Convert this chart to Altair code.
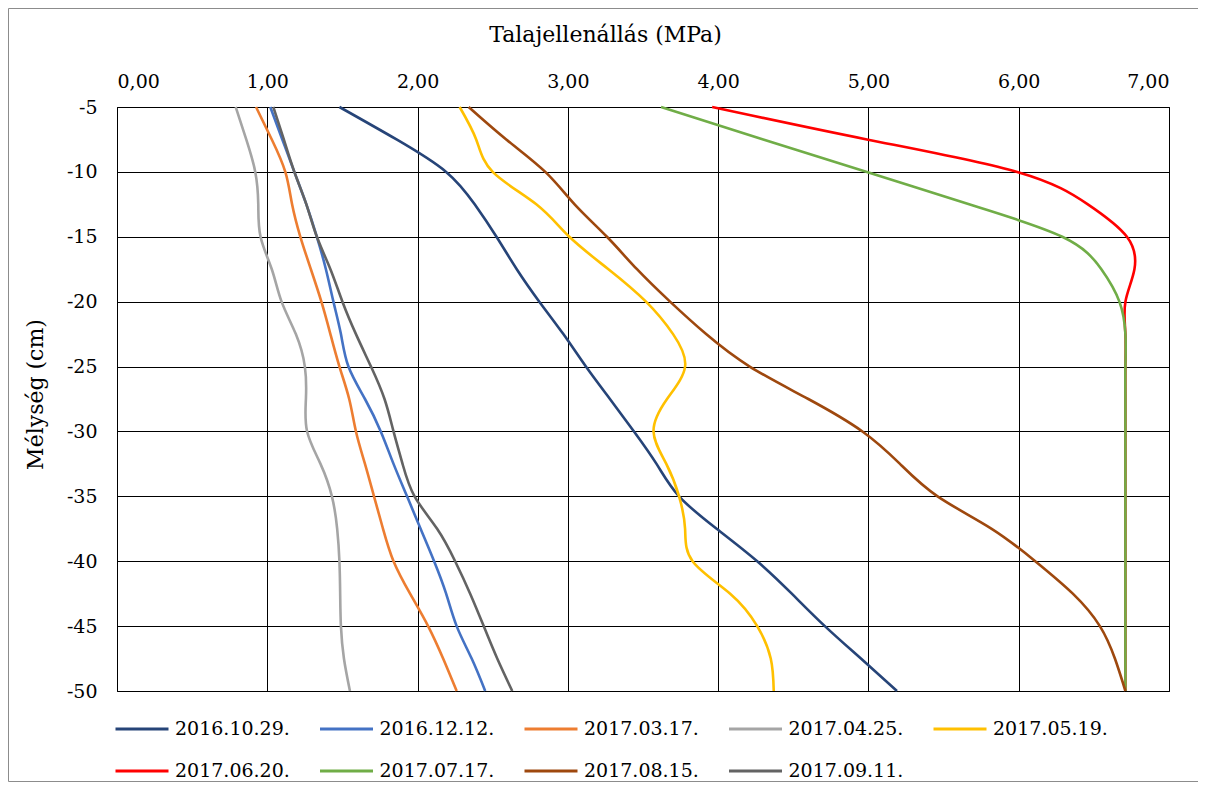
import altair as alt
import pandas as pd

# Depth (cm) sampling grid, shared by all series
DEPTH = [-5, -7.5, -10, -12.5, -15, -17.5, -20, -22.5, -25, -27.5, -30,
         -32.5, -35, -37.5, -40, -42.5, -45, -47.5, -50]

SERIES = ["2016.10.29.", "2016.12.12.", "2017.03.17.", "2017.04.25.", "2017.05.19.",
          "2017.06.20.", "2017.07.17.", "2017.08.15.", "2017.09.11."]
COLORS = ["#264478", "#4472C4", "#ED7D31", "#A5A5A5", "#FFC000",
          "#FF0000", "#70AD47", "#9E480E", "#636363"]

# Talajellenállás (MPa) per series, read at each depth in DEPTH
V_20161029 = [1.48, 1.86, 2.19, 2.38, 2.525, 2.66, 2.81, 2.97, 3.12, 3.28, 3.44,
              3.59, 3.74, 3.99, 4.26, 4.49, 4.71, 4.95, 5.19]
V_20161212 = [1.02, 1.10, 1.18, 1.26, 1.33, 1.39, 1.44, 1.49, 1.54, 1.65, 1.755,
              1.84, 1.93, 2.02, 2.11, 2.19, 2.26, 2.36, 2.45]
V_20170317 = [0.925, 1.03, 1.12, 1.165, 1.22, 1.29, 1.36, 1.42, 1.48, 1.545, 1.59,
              1.65, 1.71, 1.77, 1.84, 1.95, 2.07, 2.17, 2.26]
V_20170425 = [0.79, 0.86, 0.92, 0.94, 0.955, 1.03, 1.095, 1.19, 1.25, 1.257, 1.265,
              1.354, 1.43, 1.465, 1.48, 1.485, 1.49, 1.51, 1.55]
V_20170519 = [2.28, 2.39, 2.50, 2.79, 3.01, 3.27, 3.52, 3.70, 3.78, 3.66, 3.57,
              3.655, 3.74, 3.78, 3.83, 4.08, 4.26, 4.35, 4.37]
V_20170620 = [3.96, 4.99, 5.99, 6.46, 6.72, 6.77, 6.71, 6.71, 6.71, 6.71, 6.71,
              6.71, 6.71, 6.71, 6.71, 6.71, 6.71, 6.71, 6.71]
V_20170717 = [3.62, 4.30, 4.99, 5.67, 6.29, 6.55, 6.67, 6.71, 6.71, 6.71, 6.71,
              6.71, 6.71, 6.71, 6.71, 6.71, 6.71, 6.71, 6.71]
V_20170815 = [2.34, 2.59, 2.85, 3.045, 3.26, 3.46, 3.68, 3.92, 4.21, 4.60, 4.96,
              5.21, 5.46, 5.82, 6.11, 6.36, 6.54, 6.64, 6.71]
V_20170911 = [1.04, 1.11, 1.18, 1.26, 1.33, 1.42, 1.50, 1.59, 1.69, 1.78, 1.84,
              1.90, 1.98, 2.13, 2.25, 2.35, 2.44, 2.53, 2.63]

VALUES = [V_20161029, V_20161212, V_20170317, V_20170425, V_20170519,
          V_20170620, V_20170717, V_20170815, V_20170911]

X_TICKS = [0, 1, 2, 3, 4, 5, 6, 7]
Y_TICKS = [-5, -10, -15, -20, -25, -30, -35, -40, -45, -50]

rows = []
for name, vals in zip(SERIES, VALUES):
    for k, (d, v) in enumerate(zip(DEPTH, vals)):
        rows.append({"s": name, "d": d, "v": v, "k": k})
df = pd.DataFrame(rows)

FONT = "DejaVu Serif"

lines = alt.Chart(df).mark_line(strokeWidth=2.6, interpolate="natural").encode(
    x=alt.X("v:Q",
            scale=alt.Scale(domain=[0, 7], nice=False, zero=False),
            axis=alt.Axis(orient="top", values=X_TICKS, title="Talajellenállás (MPa)",
                          labelExpr="replace(format(datum.value, '.2f'), '.', ',')",
                          ticks=False, tickSize=0, labelPadding=16, domain=False,
                          labelFontSize=19, titleFontSize=22,
                          labelFont=FONT, titleFont=FONT,
                          titleX=488, titleY=-66, titleAlign="center",
                          titleBaseline="alphabetic")),
    y=alt.Y("d:Q",
            scale=alt.Scale(domain=[-50, -5], nice=False, zero=False),
            axis=alt.Axis(values=Y_TICKS, title="Mélység (cm)",
                          labelExpr="'' + datum.value",
                          ticks=False, tickSize=0, labelPadding=20, domain=False,
                          labelFontSize=19, titleFontSize=22,
                          labelFont=FONT, titleFont=FONT,
                          titleAngle=-90, titleX=-75, titleY=287,
                          titleAlign="center", titleBaseline="alphabetic")),
    color=alt.Color("s:N",
                    scale=alt.Scale(domain=SERIES, range=COLORS),
                    sort=SERIES,
                    legend=alt.Legend(title=None, orient="none", legendX=-3, legendY=594,
                                      direction="horizontal", columns=5,
                                      symbolType="stroke", symbolSize=2809,
                                      symbolStrokeWidth=3, labelOffset=5,
                                      labelFontSize=19, labelFont=FONT,
                                      labelColor="#000000",
                                      columnPadding=23.5, rowPadding=4,
                                      gridAlign="all", padding=0)),
    order=alt.Order("k:Q"),
)

border = alt.Chart(pd.DataFrame({"a": [0]})).mark_rect(
    fillOpacity=0, stroke="#8c8c8c", strokeWidth=1
).encode(
    x=alt.value(-108.5), x2=alt.value(1081.5),
    y=alt.value(-98.5), y2=alt.value(674.5),
)

chart = alt.layer(border, lines).properties(
    width=1052, height=584,
    autosize=alt.AutoSizeParams(type="none"),
    padding={"left": 109, "top": 99, "right": 29, "bottom": 91},
).configure(font=FONT).configure_view(
    stroke="#000000", strokeWidth=1
).configure_axis(
    gridColor="#000000", gridOpacity=1, gridWidth=1,
    labelColor="#000000", titleColor="#000000",
    titleFontWeight="normal",
)

chart.save("out.html", embed_options={"renderer": "svg", "actions": False})
